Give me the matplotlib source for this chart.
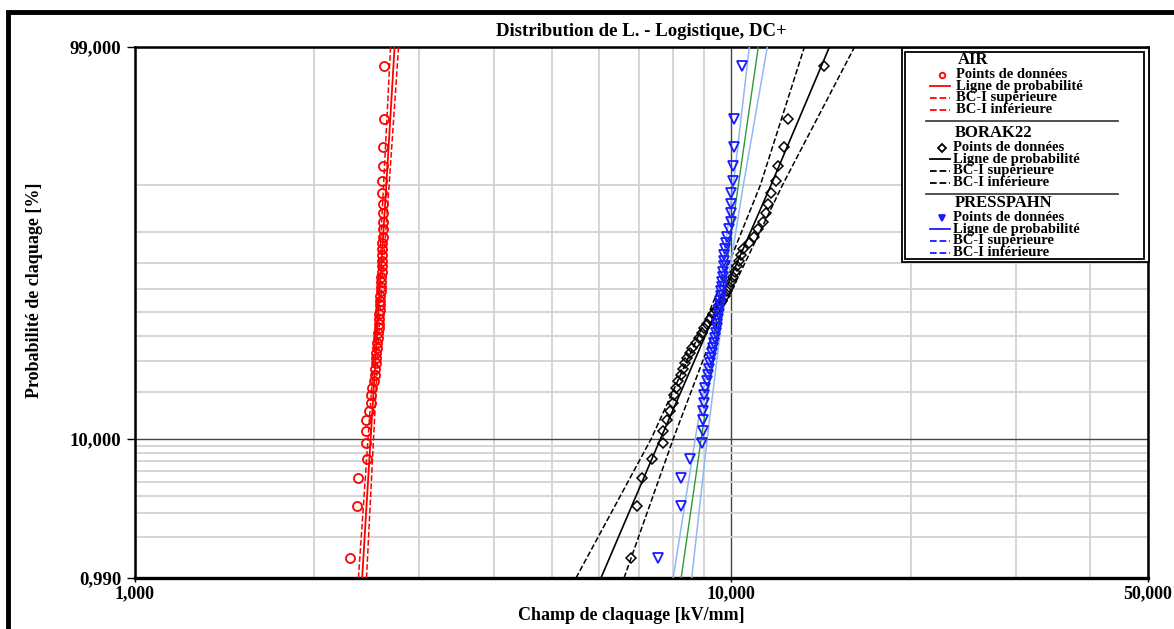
import numpy as np
import matplotlib
matplotlib.use("Agg")
import matplotlib.pyplot as plt
from matplotlib.patches import Rectangle
from matplotlib.lines import Line2D
from matplotlib.ticker import NullFormatter

plt.rcParams['font.family'] = ['Liberation Serif', 'DejaVu Serif']
plt.rcParams['font.weight'] = 'bold'

# median-rank plotting positions [%], 50 breakdowns per material
rank_pct = [1.39, 3.37, 5.36, 7.34, 9.33, 11.31, 13.29, 15.28, 17.26, 19.25,
            21.23, 23.21, 25.20, 27.18, 29.17, 31.15, 33.13, 35.12, 37.10, 39.09,
            41.07, 43.06, 45.04, 47.02, 49.01, 50.99, 52.98, 54.96, 56.94, 58.93,
            60.91, 62.90, 64.88, 66.87, 68.85, 70.83, 72.82, 74.80, 76.79, 78.77,
            80.75, 82.74, 84.72, 86.71, 88.69, 90.67, 92.66, 94.64, 96.63, 98.61]

# breakdown field [kV/mm]
air_kv = [2298, 2361, 2366, 2445, 2436, 2440, 2442, 2464, 2483, 2492,
          2502, 2512, 2522, 2527, 2532, 2536, 2541, 2546, 2551, 2553,
          2556, 2561, 2563, 2566, 2568, 2571, 2573, 2576, 2578, 2581,
          2583, 2586, 2588, 2591, 2592, 2594, 2596, 2597, 2598, 2601,
          2602, 2603, 2604, 2604, 2595, 2599, 2601, 2608, 2614, 2616]
borak_kv = [6791, 6950, 7087, 7366, 7687, 7690, 7807, 7899, 7991, 8022,
            8085, 8147, 8241, 8305, 8369, 8434, 8532, 8598, 8733, 8835,
            8938, 9006, 9112, 9218, 9325, 9435, 9546, 9658, 9770, 9847,
            9922, 10000, 10078, 10156, 10235, 10314, 10394, 10476, 10723, 10930,
            11100, 11317, 11450, 11539, 11674, 11903, 11995, 12278, 12470, 14330]
presspahn_kv = [7540, 8241, 8245, 8532, 8938, 8972, 8975, 8980, 9006, 9010,
                9041, 9112, 9147, 9183, 9218, 9254, 9290, 9325, 9362, 9399,
                9435, 9472, 9475, 9509, 9546, 9550, 9583, 9587, 9620, 9625,
                9658, 9662, 9695, 9700, 9733, 9737, 9740, 9770, 9808, 9847,
                9922, 10000, 10003, 10005, 10008, 10078, 10080, 10117, 10120, 10436]

# fitted probability lines and confidence bounds, sampled at these levels [%]
fit_pct = [0.99, 10, 50, 90, 99]
air_fit = [2404, 2484, 2560, 2639, 2725]
air_ci_low = [2370, 2459, 2547, 2611, 2683]
air_ci_high = [2445, 2512, 2576, 2668, 2767]
borak_fit = [6046, 7606, 9410, 11653, 14610]
borak_ci_low = [5490, 7338, 9184, 11186, 13265]
borak_ci_high = [6610, 7991, 9620, 12180, 16096]
presspahn_fit = [8241, 8904, 9566, 10276, 11100]
presspahn_ci_low = [7991, 8700, 9455, 10078, 10723]
presspahn_ci_high = [8584, 9112, 9677, 10476, 11494]

x_major = [1000, 10000, 50000]
x_major_labels = ['1,000', '10,000', '50,000']
x_minor = [2000, 3000, 4000, 5000, 6000, 7000, 8000, 9000, 20000, 30000, 40000]
y_major_pct = [0.99, 10, 99]
y_major_labels = ['0,990', '10,000', '99,000']
y_minor_pct = [2, 3, 4, 5, 6, 7, 8, 9, 20, 30, 40, 50, 60, 70, 80, 90]

W, H = 1174, 629
fig = plt.figure(figsize=(W / 100, H / 100), dpi=100)
ax_l, ax_r, ax_t, ax_b = 135, 1148, 47, 578
ax = fig.add_axes([ax_l / W, 1 - ax_b / H, (ax_r - ax_l) / W, (ax_b - ax_t) / H])

ax.set_xscale('log')
ax.set_yscale('logit')
ax.set_xlim(1000, 50000)
ax.set_ylim(0.0099, 0.99)

ax.set_xticks(x_major)
ax.set_xticklabels(x_major_labels)
ax.set_xticks(x_minor, minor=True)
ax.xaxis.set_minor_formatter(NullFormatter())
ax.set_yticks([p / 100 for p in y_major_pct])
ax.set_yticklabels(y_major_labels)
ax.set_yticks([p / 100 for p in y_minor_pct], minor=True)
ax.yaxis.set_minor_formatter(NullFormatter())

ax.grid(which='minor', color='#d2d2d2', lw=1.3, zorder=0)
ax.grid(which='major', color='#444444', lw=1.0, zorder=0)
ax.tick_params(which='minor', length=0)
ax.tick_params(axis='y', which='major', length=6, width=1, labelsize=13.5, pad=4)
ax.tick_params(axis='x', which='major', length=3, width=1, labelsize=13, pad=2)
for lab in ax.get_xticklabels() + ax.get_yticklabels():
    lab.set_fontweight('bold')
for side in ['left', 'bottom', 'right', 'top']:
    ax.spines[side].set_linewidth(1.8)
ax.spines['bottom'].set_linewidth(2.4)


def to_frac(pct):
    return np.array(pct) / 100.0


# AIR
ax.plot(air_fit, to_frac(fit_pct), color='red', lw=1.3, zorder=3)
ax.plot(air_ci_low, to_frac(fit_pct), color='red', ls='--', lw=1.1, zorder=3)
ax.plot(air_ci_high, to_frac(fit_pct), color='red', ls='--', lw=1.1, zorder=3)
ax.plot(air_kv, to_frac(rank_pct), 'o', mfc='none', mec='red', ms=6.5, mew=1.3, zorder=4)

# BORAK22
ax.plot(borak_fit, to_frac(fit_pct), color='black', lw=1.2, zorder=3)
ax.plot(borak_ci_low, to_frac(fit_pct), color='black', ls='--', lw=1.1, zorder=3)
ax.plot(borak_ci_high, to_frac(fit_pct), color='black', ls='--', lw=1.1, zorder=3)
ax.plot(borak_kv, to_frac(rank_pct), 'D', mfc='none', mec='black', ms=5, mew=1.1, zorder=4)

# PRESSPAHN
ax.plot(presspahn_fit, to_frac(fit_pct), color='#2e9a3a', lw=1.0, zorder=3)
ax.plot(presspahn_ci_low, to_frac(fit_pct), color='#8fb8f5', lw=1.1, zorder=3)
ax.plot(presspahn_ci_high, to_frac(fit_pct), color='#8fb8f5', lw=1.1, zorder=3)
ax.plot(presspahn_kv, to_frac(rank_pct), 'v', mfc='none', mec='#1a1aff', ms=7, mew=1.3, zorder=4)


# hand-built legend in pixel coordinates of the axes box
def axp(px, py):
    return ((px - ax_l) / (ax_r - ax_l), (ax_b - py) / (ax_b - ax_t))


x0, y0 = axp(902, 262)
x1, y1 = axp(1149, 48)
ax.add_patch(Rectangle((x0, y0), x1 - x0, y1 - y0, transform=ax.transAxes,
                       facecolor='white', edgecolor='black', lw=1.3, zorder=6, clip_on=False))
x0, y0 = axp(905, 259)
x1, y1 = axp(1144, 52)
ax.add_patch(Rectangle((x0, y0), x1 - x0, y1 - y0, transform=ax.transAxes,
                       facecolor='white', edgecolor='black', lw=1.3, zorder=6, clip_on=False))

groups = [
    ('AIR', 60, 'red', 'o', 'none', 958),
    ('BORAK22', 133, 'black', 'D', 'none', 955),
    ('PRESSPAHN', 203, '#1a1aff', 'v', '#1a1aff', 955),
]
entry_labels = ['Points de données', 'Ligne de probabilité', 'BC-I supérieure', 'BC-I inférieure']
for gi, (name, hy, col, mk, mfc, tx) in enumerate(groups):
    ax.text(*axp(tx, hy), name, transform=ax.transAxes, ha='left', va='center',
            fontsize=12, fontweight='bold', zorder=7)
    for k, lab in enumerate(entry_labels):
        ey = hy + 14.5 + 11.7 * k
        ax.text(*axp(tx - 2, ey), lab, transform=ax.transAxes, ha='left', va='center',
                fontsize=10.5, fontweight='bold', zorder=7)
        if k == 0:
            ax.add_line(Line2D(*zip(axp(942, ey)), marker=mk, mfc=mfc, mec=col, ms=4, mew=1.3,
                               ls='none', transform=ax.transAxes, zorder=7, clip_on=False))
        else:
            ls = '-' if k == 1 else '--'
            hx0, hy0 = axp(930, ey)
            hx1, _ = axp(950, ey)
            ax.add_line(Line2D([hx0, hx1], [hy0, hy0], color=col, ls=ls, lw=1.3,
                               transform=ax.transAxes, zorder=7, clip_on=False))
    if gi < 2:
        sy = hy + 61
        sx0, sy0 = axp(926, sy)
        sx1, _ = axp(1118, sy)
        ax.add_line(Line2D([sx0, sx1], [sy0, sy0], color='#333333', lw=1.2,
                           transform=ax.transAxes, zorder=7, clip_on=False))

fig.text(641 / W, 1 - 32 / H, 'Distribution de L. - Logistique, DC+', ha='center', va='center',
         fontsize=13.5, fontweight='bold')
fig.text(631 / W, 1 - 615 / H, 'Champ de claquage [kV/mm]', ha='center', va='center',
         fontsize=13, fontweight='bold')
fig.text(35 / W, 1 - 290 / H, 'Probabilité de claquage [%]', ha='center', va='center',
         rotation=90, fontsize=13, fontweight='bold')

# heavy outer frame running off the right and bottom edges
fig.add_artist(Rectangle((8 / W, -0.2), 1.5, 1 - 12 / H + 0.2, transform=fig.transFigure,
                         fill=False, edgecolor='black', lw=3.5))

fig.savefig('out.png', dpi=100)
